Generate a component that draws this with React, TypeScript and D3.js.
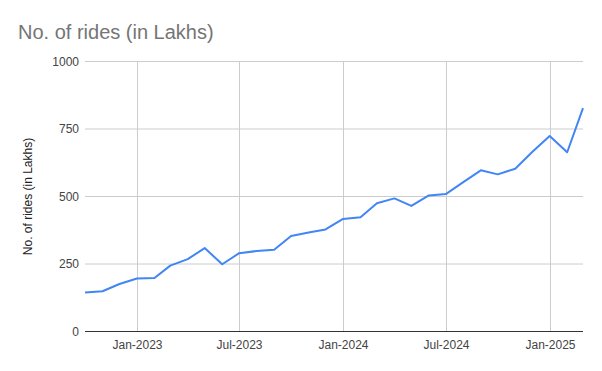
import React from "react";
import * as d3 from "d3";

const months: string[] = [
  "2022-10", "2022-11", "2022-12",
  "2023-01", "2023-02", "2023-03", "2023-04", "2023-05", "2023-06",
  "2023-07", "2023-08", "2023-09", "2023-10", "2023-11", "2023-12",
  "2024-01", "2024-02", "2024-03", "2024-04", "2024-05", "2024-06",
  "2024-07", "2024-08", "2024-09", "2024-10", "2024-11", "2024-12",
  "2025-01", "2025-02", "2025-03",
];
const rides: number[] = [
  144, 149, 176,
  196, 198, 244, 268, 309, 249,
  290, 298, 303, 354, 367, 378,
  417, 423, 475, 493, 465, 504,
  509, 553, 597, 582, 603, 665,
  724, 664, 827,
];
const yTicks: number[] = [0, 250, 500, 750, 1000];
const xTickMonths: string[] = ["2023-01", "2023-07", "2024-01", "2024-07", "2025-01"];

const W = 602;
const H = 371;
const left = 85;
const right = 583;
const top = 61.5;
const bottom = 331.5;

const parse = d3.timeParse("%Y-%m");
const fmt = d3.timeFormat("%b-%Y");

export default function App() {
  const dates = months.map((m) => parse(m) as Date);
  const x = d3.scaleTime().domain([dates[0], dates[dates.length - 1]]).range([left, right]);
  const y = d3.scaleLinear().domain([0, 1000]).range([bottom, top]);
  const line = d3
    .line<number>()
    .x((_, i) => x(dates[i]))
    .y((d) => y(d));
  const font = "Arial, 'Liberation Sans', sans-serif";

  return (
    <svg width={W} height={H} style={{ position: "absolute", left: 0, top: 0, background: "#fff" }}>
      <rect x={0} y={0} width={W} height={H} fill="#fff" />
      <text x={18} y={39} fontFamily={font} fontSize={20} fill="#757575">
        No. of rides (in Lakhs)
      </text>
      {yTicks.map((t) => (
        <g key={t}>
          {t !== 0 && (
            <line x1={left} x2={right} y1={y(t)} y2={y(t)} stroke="#cccccc" strokeWidth={1} />
          )}
          <text
            x={79}
            y={y(t)}
            dy="0.35em"
            textAnchor="end"
            fontFamily={font}
            fontSize={12}
            fill="#444"
          >
            {t}
          </text>
        </g>
      ))}
      {xTickMonths.map((m) => {
        const d = parse(m) as Date;
        const xx = Math.round(x(d)) + 0.5;
        return (
          <g key={m}>
            <line x1={xx} x2={xx} y1={top} y2={bottom} stroke="#cccccc" strokeWidth={1} />
            <text
              x={xx}
              y={349}
              textAnchor="middle"
              fontFamily={font}
              fontSize={12}
              fill="#444"
            >
              {fmt(d)}
            </text>
          </g>
        );
      })}
      <line x1={left} x2={right} y1={bottom} y2={bottom} stroke="#333" strokeWidth={1} />
      <path
        d={line(rides) || ""}
        fill="none"
        stroke="#4285F4"
        strokeWidth={2}
        strokeLinejoin="round"
      />
      <text
        transform={`translate(32,${(top + bottom) / 2}) rotate(-90)`}
        textAnchor="middle"
        fontFamily={font}
        fontSize={12}
        fill="#222"
      >
        No. of rides (in Lakhs)
      </text>
    </svg>
  );
}
